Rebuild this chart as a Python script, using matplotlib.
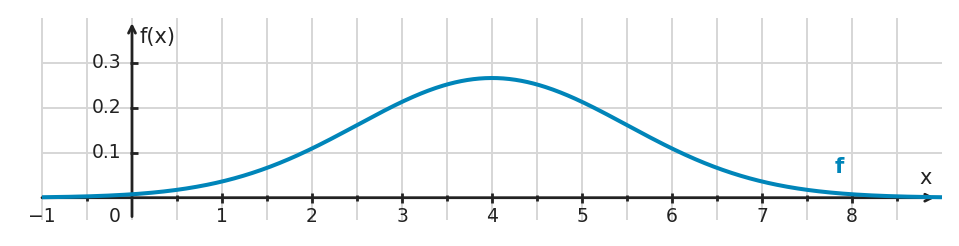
import numpy as np
import matplotlib
matplotlib.use("Agg")
import matplotlib.pyplot as plt

# ---- data ----
mu = 4.0          # mean of the plotted normal density f
sigma = 1.5       # standard deviation
x_start, x_end = -1.0, 9.0
x_tick_labels = [-1, 1, 2, 3, 4, 5, 6, 7, 8]
x_minor_ticks = [v / 2 for v in range(-1, 18)]   # -0.5 .. 8.5
y_ticks = [0.1, 0.2, 0.3]
y_tick_labels = ["0.1", "0.2", "0.3"]
grid_x = [v / 2 for v in range(-2, 18)]          # -1 .. 8.5
grid_y = [0.1, 0.2, 0.3]

# ---- style ----
curve_color = "#0085b9"
axis_color = "#222222"
grid_color = "#d6d6d6"
fs = 13.5

W, H = 959, 246
fig = plt.figure(figsize=(W / 100, H / 100), dpi=100)
ax = fig.add_axes([0, 0, 1, 1])
# pixel mapping: x=0 at 132px, 90 px/unit ; y=0 at 197.7px from top, 450 px/unit
x0p, sx = 132.0, 90.0
y0p, sy = 197.7, 450.0
ax.set_xlim(-x0p / sx, (W - x0p) / sx)
ax.set_ylim((y0p - H) / sy, y0p / sy)
ax.axis("off")

# grid
ax.vlines(grid_x, -0.05, 0.4, colors=grid_color, lw=1.4, zorder=1)
ax.hlines(grid_y, -1, 9, colors=grid_color, lw=1.4, zorder=1)

# axes with arrows
ax.annotate("", xy=(8.92, 0), xytext=(x_start, 0),
            arrowprops=dict(arrowstyle="->,head_length=0.5,head_width=0.25",
                            color=axis_color, lw=2.0, shrinkA=0, shrinkB=0),
            zorder=3)
ax.annotate("", xy=(0, 0.388), xytext=(0, -0.042),
            arrowprops=dict(arrowstyle="->,head_length=0.5,head_width=0.25",
                            color=axis_color, lw=2.0, shrinkA=0, shrinkB=0),
            zorder=3)

# x ticks
major = [t for t in x_minor_ticks if float(t).is_integer() and t != 0]
minor = [t for t in x_minor_ticks if not float(t).is_integer()]
ax.vlines(major, -5 / sy, 5 / sy, colors=axis_color, lw=2.0, zorder=3)
ax.vlines(minor, -3 / sy, 3 / sy, colors=axis_color, lw=2.0, zorder=3)
# y ticks
ax.hlines(y_ticks, -2 / sx, 5.5 / sx, colors=axis_color, lw=2.0, zorder=3)

# tick labels
for v in x_tick_labels:
    lab = "\u2212" + str(-v) if v < 0 else str(v)
    ax.text(v, -0.041, lab, ha="center", va="center", fontsize=fs, color=axis_color)
ax.text(-0.19, -0.041, "0", ha="center", va="center", fontsize=fs, color=axis_color)
for v, lab in zip(y_ticks, y_tick_labels):
    ax.text(-0.12, v, lab, ha="right", va="center", fontsize=fs, color=axis_color)

# axis labels
ax.text(0.085, 0.358, "f(x)", ha="left", va="center", fontsize=15, color=axis_color)
ax.text(8.82, 0.044, "x", ha="center", va="center", fontsize=15, color=axis_color)

# curve
xs = np.linspace(x_start, x_end, 600)
ys = np.exp(-0.5 * ((xs - mu) / sigma) ** 2) / (sigma * np.sqrt(2 * np.pi))
ax.plot(xs, ys, color=curve_color, lw=2.9, zorder=4, solid_capstyle="butt")
ax.text(7.86, 0.069, "f", ha="center", va="center", fontsize=15.5,
        fontweight="bold", color=curve_color)

fig.savefig("out.png", dpi=100)
